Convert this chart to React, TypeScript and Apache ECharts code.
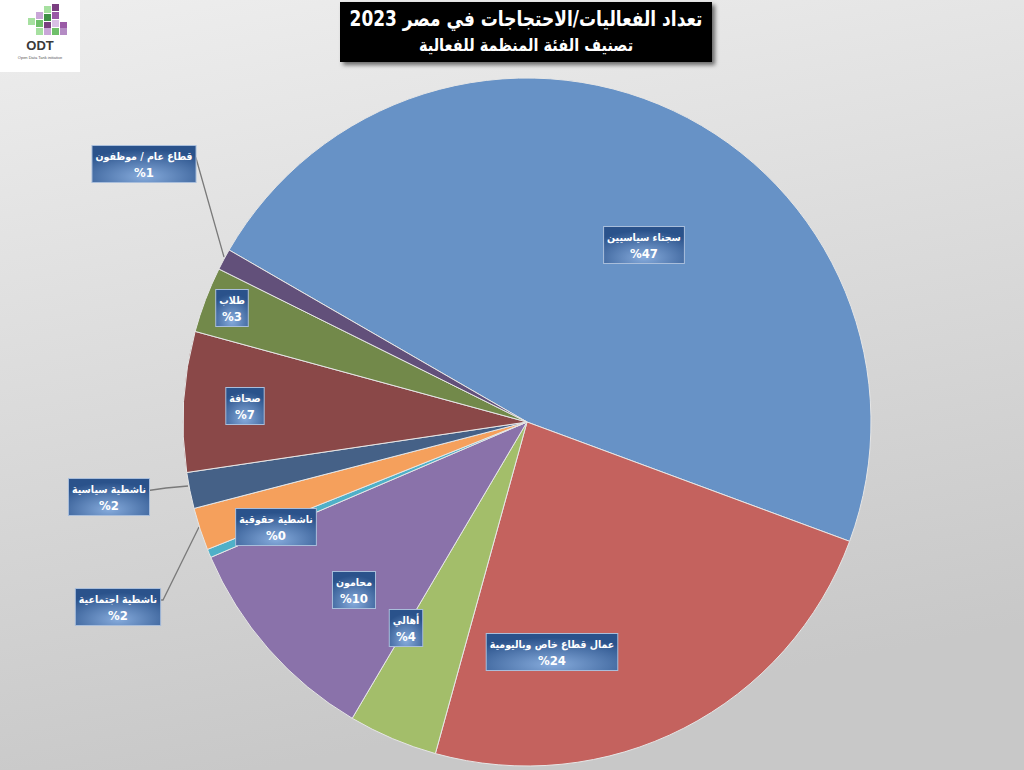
import React, { useEffect, useRef } from 'react';
import * as echarts from 'echarts';

const titleLine1 = 'تعداد الفعاليات/الاحتجاجات في مصر 2023';
const titleLine2 = 'تصنيف الفئة المنظمة للفعالية';

const categories = [
  'سجناء سياسيين',
  'عمال قطاع خاص وباليومية',
  'أهالي',
  'محامون',
  'ناشطية حقوقية',
  'ناشطية اجتماعية',
  'ناشطية سياسية',
  'صحافة',
  'طلاب',
  'قطاع عام / موظفون',
];
const values = [47.4, 23.7, 4.2, 10.1, 0.4, 2.0, 1.7, 6.6, 3.1, 1.0];

const colors = [
  '#6792C6', '#C4625E', '#A3BE6A', '#8A72AA', '#4FB0C8',
  '#F5A05C', '#456187', '#8A4848', '#72894A', '#62507A',
];

// label box centres (layout only)
const labelCenters: [number, number][] = [
  [644, 245], [552, 652], [406, 628], [354, 590], [276, 527],
  [117, 607], [108, 497], [245, 406], [232, 308], [143, 164],
];
const outsideIdx = [5, 6, 9];
const leaderLines: Record<number, number[][]> = {
  5: [[199, 527], [163, 600], [157, 600]],
  6: [[188, 486], [166, 488], [145, 491]],
  9: [[224, 257], [196, 158], [190, 158]],
};

const FONT = "'DejaVu Sans Condensed', 'DejaVu Sans', sans-serif";

export default function App() {
  const ref = useRef<HTMLDivElement>(null);
  useEffect(() => {
    document.body.style.margin = '0';
    const chart = echarts.init(ref.current!, null, { renderer: 'svg' });
    const boxBg = new echarts.graphic.RadialGradient(0.5, 0.85, 0.75, [
      { offset: 0, color: '#86abdc' },
      { offset: 1, color: '#2a528b' },
    ]);
    const cubes = [
      [44, 6, '#a6e0a0'], [52, 4, '#7a3f80'], [36, 12, '#c9a6d8'], [44, 14, '#3f8f47'],
      [52, 12, '#9a5aa6'], [28, 18, '#a6e0a0'], [36, 20, '#6fbf6a'], [44, 22, '#7a3f80'],
      [52, 20, '#d8c0e4'], [60, 22, '#9a5aa6'], [36, 28, '#a6e0a0'], [44, 28, '#c9a6d8'],
      [52, 28, '#6fbf6a'], [60, 28, '#b48cc4'],
    ] as [number, number, string][];
    chart.setOption({
      animation: false,
      backgroundColor: new echarts.graphic.LinearGradient(0, 0, 0.25, 1, [
        { offset: 0, color: '#eeeeee' },
        { offset: 1, color: '#c8c8c8' },
      ]),
      graphic: [
        { type: 'rect', shape: { x: 0, y: 0, width: 80, height: 72 }, style: { fill: '#ffffff' } },
        ...cubes.map(([x, y, c]) => ({
          type: 'rect', shape: { x, y, width: 7, height: 7 }, style: { fill: c },
        })),
        {
          type: 'text', x: 40, y: 45,
          style: { text: 'ODT', fill: '#3a3a3a', font: 'bold 13px Arial, sans-serif', align: 'center', verticalAlign: 'middle', textAlign: 'center', textVerticalAlign: 'middle' },
        },
        {
          type: 'text', x: 40, y: 57,
          style: { text: 'Open Data Tank initiative', fill: '#555', font: '4px Arial, sans-serif', align: 'center', verticalAlign: 'middle', textAlign: 'center', textVerticalAlign: 'middle' },
        },
        {
          type: 'rect', shape: { x: 340, y: 2, width: 372, height: 60 },
          style: { fill: '#000000', shadowBlur: 4, shadowOffsetX: 3, shadowOffsetY: 3, shadowColor: 'rgba(0,0,0,0.55)' },
        },
        {
          type: 'text', x: 526, y: 19, scaleX: 0.9,
          style: { text: titleLine1, fill: '#ffffff', font: `bold 21px ${FONT}`, align: 'center', verticalAlign: 'middle', textAlign: 'center', textVerticalAlign: 'middle' },
        },
        {
          type: 'text', x: 526, y: 45, scaleX: 0.95,
          style: { text: titleLine2, fill: '#ffffff', font: `bold 17px ${FONT}`, align: 'center', verticalAlign: 'middle', textAlign: 'center', textVerticalAlign: 'middle' },
        },
      ],
      series: [
        {
          type: 'pie',
          center: [527, 422],
          radius: 344,
          startAngle: 150,
          clockwise: true,
          avoidLabelOverlap: false,
          itemStyle: { borderColor: '#e6e6e6', borderWidth: 1 },
          label: {
            formatter: (p: any) => `{n|${p.name}}\n{p|%${Math.round(p.percent)}}`,
            backgroundColor: boxBg,
            borderColor: '#a9bedb',
            borderWidth: 1,
            padding: [2, 3, 1, 3],
            rich: {
              n: { fontFamily: FONT, fontSize: 10.5, fontWeight: 'bold', color: '#ffffff', align: 'center', lineHeight: 16 },
              p: { fontFamily: FONT, fontSize: 13, fontWeight: 'bold', color: '#ffffff', align: 'center', lineHeight: 17 },
            },
          },
          labelLine: { lineStyle: { color: '#7a7a7a', width: 1.3 } },
          labelLayout: (params: any) => {
            const i = params.dataIndex;
            const [cx, cy] = labelCenters[i];
            const w = params.labelRect.width;
            const h = params.labelRect.height;
            const x = cx + (params.align === 'left' ? -w / 2 : params.align === 'right' ? w / 2 : 0);
            const y = cy + (params.verticalAlign === 'top' ? -h / 2 : params.verticalAlign === 'bottom' ? h / 2 : 0);
            const res: any = { x, y, hideOverlap: false, moveOverlap: null };
            if (leaderLines[i]) res.labelLinePoints = leaderLines[i];
            return res;
          },
          data: categories.map((name, i) => ({
            name,
            value: values[i],
            itemStyle: { color: colors[i] },
            label: { position: outsideIdx.includes(i) ? 'outside' : 'inside' },
            labelLine: { show: outsideIdx.includes(i) },
          })),
        },
      ],
    });
    return () => chart.dispose();
  }, []);
  return <div ref={ref} style={{ width: 1024, height: 770 }} />;
}
